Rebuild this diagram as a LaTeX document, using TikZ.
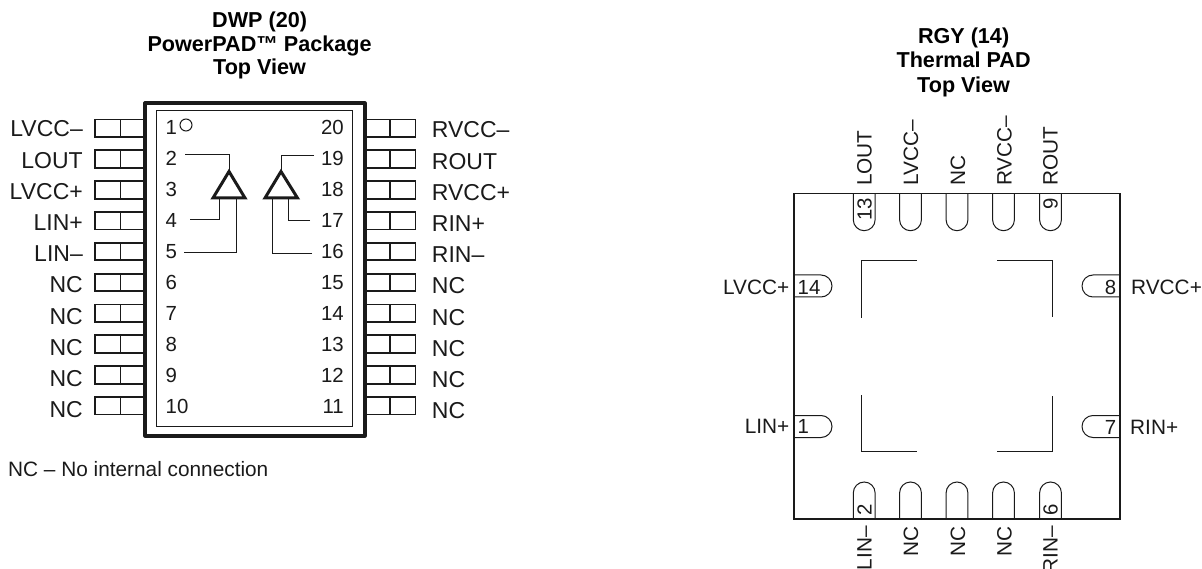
\documentclass[tikz,border=0pt]{standalone}
\usepackage{fontspec}
\setmainfont{Liberation Sans}
\definecolor{ink}{HTML}{1A1A1A}
\tikzset{
  thin line/.style={draw=ink,line width=1pt},
  body line/.style={draw=ink,line width=1.2pt},
  pkg line/.style={draw=ink,line width=3.2pt,line join=round},
  pin line/.style={draw=ink,line width=1.9pt,line join=miter},
  amp line/.style={draw=ink,line width=3pt,line join=miter},
  tlabel/.style={inner sep=0pt,font=\fontsize{21.6}{24}\selectfont\bfseries,align=center,text=black},
  plabel/.style={inner sep=0pt,font=\fontsize{23}{24}\selectfont,text=ink},
  qlabel/.style={inner sep=0pt,font=\fontsize{20.8}{24}\selectfont,text=ink},
  nlabel/.style={inner sep=0pt,font=\fontsize{20.4}{24}\selectfont,text=ink},
}
\begin{document}
\begin{tikzpicture}[x=1pt,y=-1pt]
\useasboundingbox (0,0) rectangle (1202,569);
% --- DWP titles
\node[tlabel,anchor=base] (t1a) at (259.6,28) {DWP (20)};
\node[tlabel,anchor=base] (t1b) at (259.6,51.7) {PowerPAD™ Package};
\node[tlabel,anchor=base] (t1c) at (259.6,75) {Top View};
% --- DWP package
\draw[pkg line] (145,103) rectangle (365,436);
\draw[thin line] (156,111) rectangle (352,426);
\draw[thin line] (186,125) circle (6);
% --- pins and labels
\foreach \i/\ltxt/\rtxt [evaluate=\i as \pt using {119.5+30.83*(\i-1)},
   evaluate=\i as \bl using {137+31.2*(\i-1)},
   evaluate=\i as \nb using {135+30.9*(\i-1)},
   evaluate=\i as \rn using int(21-\i)] in
 {1/LVCC–/RVCC–,2/LOUT/ROUT,3/LVCC+/RVCC+,4/LIN+/RIN+,5/LIN–/RIN–,6/NC/NC,7/NC/NC,8/NC/NC,9/NC/NC,10/NC/NC}{
  \draw[pin line] (145,\pt) -- (95,\pt) -- (95,\pt+17.5) -- (145,\pt+17.5);
  \draw[pin line] (120.5,\pt) -- (120.5,\pt+17.5);
  \draw[pin line] (365,\pt) -- (415.5,\pt) -- (415.5,\pt+17.5) -- (365,\pt+17.5);
  \draw[pin line] (390,\pt) -- (390,\pt+17.5);
  \node[plabel,anchor=base east] (ll\i) at (83,\bl) {\ltxt};
  \node[plabel,anchor=base west] (rl\i) at (431.7,\bl+1) {\rtxt};
  \node[nlabel,anchor=base west] (ln\i) at (165.5,\nb) {\i};
  \node[nlabel,anchor=base east] (rn\i) at (344,\nb) {\rn};
}
% --- amplifiers
\draw[amp line] (229,171.5) -- (245,198) -- (213,198) -- cycle;
\draw[amp line] (281,171.5) -- (297.5,198) -- (265,198) -- cycle;
\draw[thin line] (185,155) -| (229,171);
\draw[thin line] (190,220) -| (219,199);
\draw[thin line] (184,252.5) -| (236,199);
\draw[thin line] (314,156) -| (281,171);
\draw[thin line] (310,220.7) -| (288,199);
\draw[thin line] (312,254) -| (272,199);
\node[inner sep=0pt,anchor=base west,font=\fontsize{20.8}{24}\selectfont,text=ink] (note) at (8,476) {NC – No internal connection};
% --- RGY titles
\node[tlabel,anchor=base] (t2a) at (963.6,44) {RGY (14)};
\node[tlabel,anchor=base] (t2b) at (963.6,68) {Thermal PAD};
\node[tlabel,anchor=base] (t2c) at (963.6,92.7) {Top View};
% --- RGY body
\draw[body line] (794,193.5) rectangle (1120,519);
\foreach \c in {864.2,910.5,957,1003.5,1050.5}{
  \draw[thin line] (\c-10.9,193.5) -- (\c-10.9,219.8) arc[start angle=180,end angle=0,radius=10.9] -- (\c+10.9,193.5);
  \draw[thin line] (\c-10.9,519) -- (\c-10.9,492.9) arc[start angle=180,end angle=360,radius=10.9] -- (\c+10.9,519);
}
\foreach \y in {286,426.5}{
  \draw[thin line] (794,\y-11) -- (821,\y-11) arc[start angle=-90,end angle=90,radius=11] -- (794,\y+11);
  \draw[thin line] (1120,\y-11) -- (1093,\y-11) arc[start angle=270,end angle=90,radius=11] -- (1120,\y+11);
}
% --- thermal pad corners
\draw[thin line] (916.7,261) -| (861.7,317.7);
\draw[thin line] (997,261) -| (1052.7,316.7);
\draw[thin line] (916.7,451.7) -| (861.7,395);
\draw[thin line] (997,451.7) -| (1052.7,395.7);
% --- RGY rotated labels
\foreach \x/\txt [count=\k] in {871.7/LOUT,918/LVCC–,965/NC,1011.7/RVCC–,1057.7/ROUT}{
  \node[qlabel,rotate=90,anchor=base west] (tl\k) at (\x,186) {\txt};
}
\foreach \x/\txt [count=\k] in {871.7/LIN–,918/NC,965/NC,1011.7/NC,1057.7/RIN–}{
  \node[qlabel,rotate=90,anchor=base east] (bl\k) at (\x,526) {\txt};
}
\node[nlabel,rotate=90,anchor=base east] (n13) at (871.7,198) {13};
\node[nlabel,rotate=90,anchor=base east] (n9) at (1057.7,198) {9};
\node[nlabel,rotate=90,anchor=base west] (n2) at (871.7,516) {2};
\node[nlabel,rotate=90,anchor=base west] (n6) at (1057.7,516) {6};
\node[nlabel,anchor=base west] (n14) at (797.5,295) {14};
\node[nlabel,anchor=base west] (n1) at (797.5,433.5) {1};
\node[nlabel,anchor=base east] (n8) at (1116.5,295) {8};
\node[nlabel,anchor=base east] (n7) at (1116.5,434.7) {7};
\node[qlabel,anchor=base east] (lv) at (789.5,295) {LVCC+};
\node[qlabel,anchor=base east] (li) at (789.5,433.5) {LIN+};
\node[qlabel,anchor=base west] (rv) at (1131,295) {RVCC+};
\node[qlabel,anchor=base west] (ri) at (1130,434.7) {RIN+};
\end{tikzpicture}
\end{document}
